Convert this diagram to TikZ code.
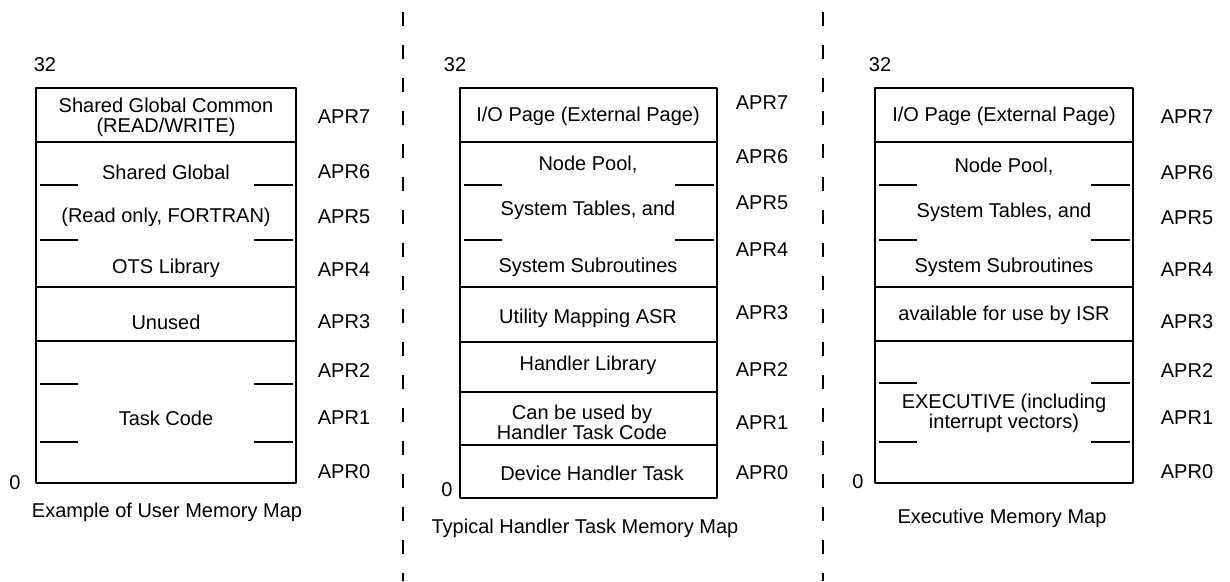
\documentclass[tikz,border=0pt]{standalone}
\usepackage{fontspec}
\setmainfont{Liberation Sans}
\newcommand\gapmark[3]{\draw[gap] (#1+4,#3) -- (#1+42,#3); \draw[gap] (#2-42,#3) -- (#2-3,#3);}
\begin{document}
\begin{tikzpicture}[x=1pt,y=-1pt,line join=round,font=\fontsize{20}{20}\selectfont,
  box/.style={line width=2.6pt},
  gap/.style={line width=1.6pt},
  sep/.style={line width=2.5pt,dash pattern=on 14pt off 19pt},
  txt/.style={inner sep=0pt,align=center}]
  \useasboundingbox (0,0) rectangle (1230,581);
  % separators
  \draw[sep] (403,12) -- (403,581);
  \draw[sep] (823,12) -- (823,581);

  % user memory map
  \def\xa{36}
  \def\xb{296}
  \draw[box] (\xa,88) rectangle (\xb,483);
  \draw[box] (\xa,142) -- (\xb,142) (\xa,287) -- (\xb,287) (\xa,341) -- (\xb,341);
  \gapmark{\xa}{\xb}{185}
  \gapmark{\xa}{\xb}{240}
  \gapmark{\xa}{\xb}{384}
  \gapmark{\xa}{\xb}{442}
  \node[txt] (ushared) at (166,117) {Shared Global Common\\(READ/WRITE)};
  \node[txt] (uglobal) at (166,172) {Shared Global};
  \node[txt] (uread) at (166,217) {(Read only, FORTRAN)};
  \node[txt] (uots) at (166,268) {OTS Library};
  \node[txt] (uunused) at (166,322) {Unused};
  \node[txt] (utask) at (166,418) {Task Code};
  \node[txt] (utop) at (45,65) {32};
  \node[txt] (ubot) at (15,483) {0};
  \node[txt] (ucap) at (167,512) {Example of User Memory Map};
  \foreach \y [count=\i from 0] in {472,418,371,322,270,217,172,117}
    \node[txt] (uapr\i) at (344,\y) {APR\i};

  % handler task memory map
  \def\xa{460}
  \def\xb{717}
  \draw[box] (\xa,88) rectangle (\xb,498);
  \draw[box] (\xa,142) -- (\xb,142) (\xa,287) -- (\xb,287) (\xa,342) -- (\xb,342)
    (\xa,392) -- (\xb,392) (\xa,445) -- (\xb,445);
  \gapmark{\xa}{\xb}{185}
  \gapmark{\xa}{\xb}{240}
  \node[txt] (hio) at (588,116) {I/O Page (External Page)};
  \node[txt] (hpool) at (588,165) {Node Pool,};
  \node[txt] (htables) at (588,210) {System Tables, and};
  \node[txt] (hsub) at (588,267) {System Subroutines};
  \node[txt] (hutil) at (588,318) {Utility Mapping ASR};
  \node[txt] (hlib) at (588,365) {Handler Library};
  \node[txt] (hcan) at (582,422) {Can be used by\\Handler Task Code};
  \node[txt] (hdev) at (592,473) {Device Handler Task};
  \node[txt] (htop) at (455,65) {32};
  \node[txt] (hbot) at (447,490) {0};
  \node[txt] (hcap) at (585,528) {Typical Handler Task Memory Map};
  \foreach \y [count=\i from 0] in {473,423,370,313,250,203,157,103}
    \node[txt] (hapr\i) at (762,\y) {APR\i};

  % executive memory map
  \def\xa{875}
  \def\xb{1133}
  \draw[box] (\xa,88) rectangle (\xb,483);
  \draw[box] (\xa,142) -- (\xb,142) (\xa,287) -- (\xb,287) (\xa,341) -- (\xb,341);
  \gapmark{\xa}{\xb}{185}
  \gapmark{\xa}{\xb}{240}
  \gapmark{\xa}{\xb}{383}
  \gapmark{\xa}{\xb}{442}
  \node[txt] (eio) at (1004,116) {I/O Page (External Page)};
  \node[txt] (epool) at (1004,167) {Node Pool,};
  \node[txt] (etables) at (1004,212) {System Tables, and};
  \node[txt] (esub) at (1004,267) {System Subroutines};
  \node[txt] (eisr) at (1004,315) {available for use by ISR};
  \node[txt] (eexec) at (1004,413) {EXECUTIVE (including\\interrupt vectors)};
  \node[txt] (etop) at (880,65) {32};
  \node[txt] (ebot) at (858,482) {0};
  \node[txt] (ecap) at (1002,518) {Executive Memory Map};
  \foreach \y [count=\i from 0] in {472,418,371,322,270,218,173,117}
    \node[txt] (eapr\i) at (1187,\y) {APR\i};
\end{tikzpicture}
\end{document}
